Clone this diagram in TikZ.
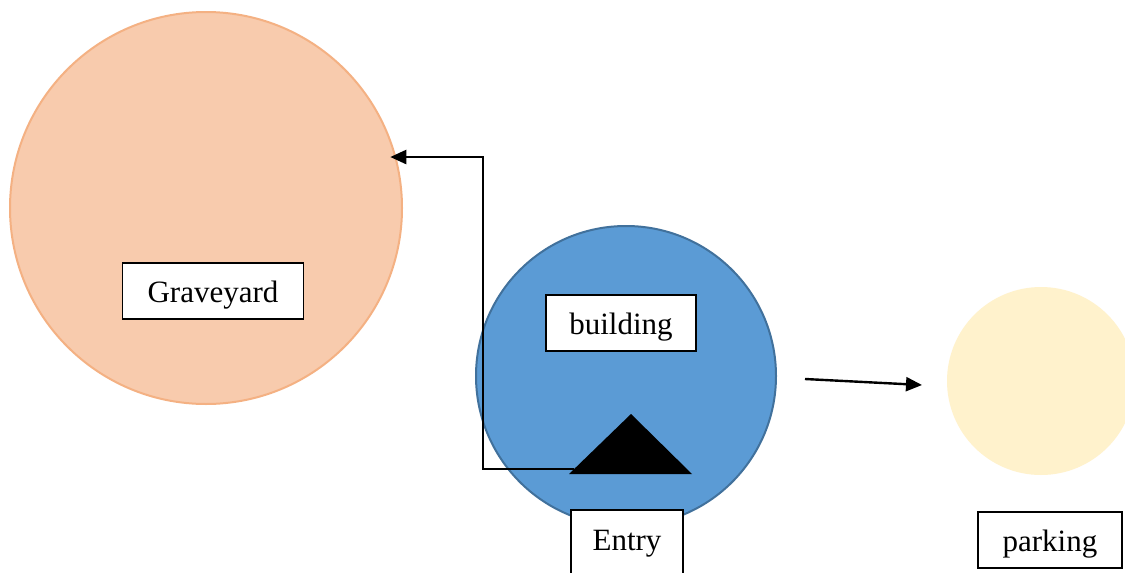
\documentclass[tikz,border=0pt]{standalone}
\usepackage{fontspec}
\setmainfont{Liberation Serif}
\usetikzlibrary{positioning, arrows.meta}

\definecolor{graveFill}{HTML}{F8CBAD}
\definecolor{graveLine}{HTML}{F4B183}
\definecolor{buildFill}{HTML}{5B9BD5}
\definecolor{buildLine}{HTML}{41719C}
\definecolor{parkFill}{HTML}{FFF2CC}

\tikzset{
    zone/.style={circle, inner sep=0pt, line width=2pt},
    tag/.style={draw, fill=white, line width=1.6pt, minimum height=56pt, inner sep=0pt,
        text height=22pt, text depth=0pt, font=\fontsize{31}{36}\selectfont},
    link/.style={line width=2.4pt, -{Triangle[length=16pt, width=14pt]}}
}

\begin{document}
\begin{tikzpicture}[x=1pt, y=-1pt]
    \clip (0,0) rectangle (1125,573);
    \fill[white] (0,0) rectangle (1125,573);

    \node (grave) [zone, draw=graveLine, fill=graveFill, minimum size=392pt] at (206,208) {};
    \node (bldg) [zone, draw=buildLine, fill=buildFill, minimum size=300pt] at (626,376) {};
    \node (park) [zone, fill=parkFill, minimum size=188pt] at (1041,381) {};

    \node (graveTag) [tag, minimum width=181pt] at (213,291) {Graveyard};
    \node (bldgTag) [tag, minimum width=150pt] at (621,323) {building};
    \node (entryTag) [tag, minimum width=112pt, minimum height=70pt] at (627,545) {\raisebox{6pt}{Entry}};
    \node (parkTag) [tag, minimum width=144pt] at (1050,540) {parking};

    % entry triangle
    \fill (569,474) -- (631,414) -- (692,474) -- cycle;
    \coordinate (door) at (574,469);
    \coordinate (bend) at (483,469);
    \draw [link, shorten >=-6pt] (door) -- (bend) |- (grave.15);

    \coordinate (exitL) at (805,379);
    \coordinate (exitR) at (922,385);
    \draw [link] (exitL) -- (exitR);
\end{tikzpicture}
\end{document}
